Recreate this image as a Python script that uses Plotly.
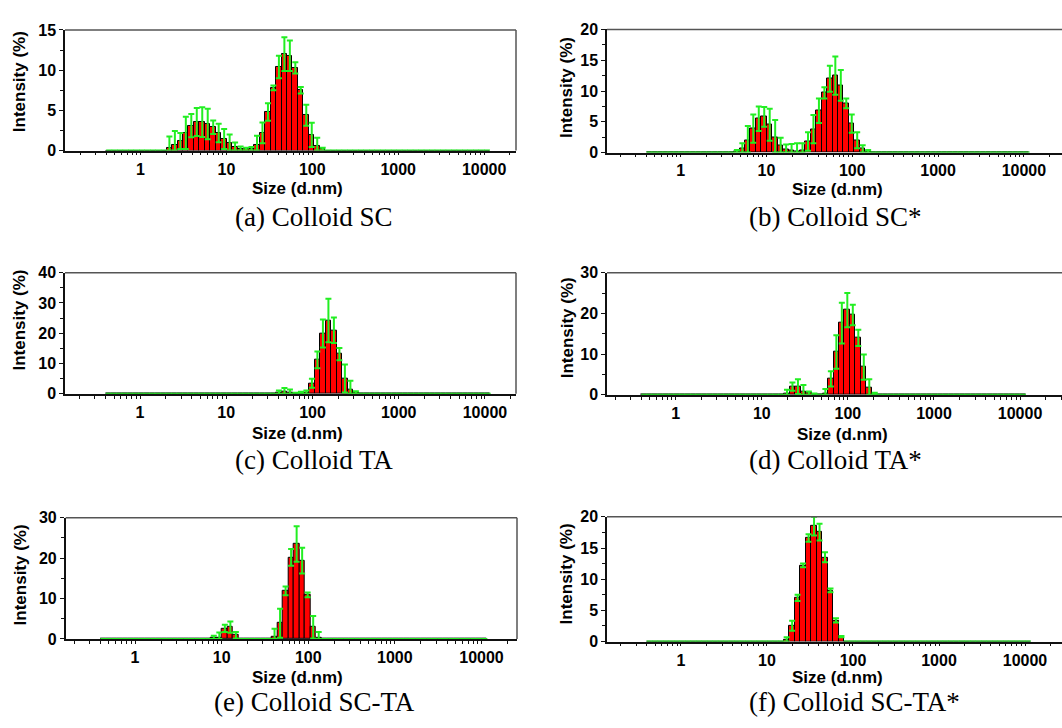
import plotly.graph_objects as go

W, H = 1062, 728

# Instrument size classes (d.nm)
SIZES_NM = [0.4, 0.4632, 0.5365, 0.6213, 0.7195, 0.8332, 0.9649, 1.117, 1.294, 1.499,
            1.736, 2.01, 2.328, 2.696, 3.122, 3.615, 4.187, 4.849, 5.615, 6.503,
            7.531, 8.721, 10.1, 11.7, 13.54, 15.69, 18.17, 21.04, 24.36, 28.21,
            32.67, 37.84, 43.82, 50.75, 58.77, 68.06, 78.82, 91.28, 105.7, 122.4,
            141.8, 164.2, 190.1, 220.2, 255.0, 295.3, 342.0, 396.1, 458.7, 531.2,
            615.1, 712.4, 825.0, 955.4, 1106, 1281, 1484, 1718, 1990, 2305,
            2669, 3091, 3580, 4145, 4801, 5560, 6439, 7456, 8635, 10000]

X_TICK_VALUES = [1, 10, 100, 1000, 10000]
X_TICK_TEXT = ["1", "10", "100", "1000", "10000"]

# Intensity distributions: first populated size class, then values (%) and std. dev.
SC_START = 11
SC_INTENSITY = [0.3, 0.7, 1.2, 2.2, 3.1, 3.55, 3.55, 3.3, 2.9, 2.2, 1.45, 0.9, 0.4, 0.2,
                0.15, 0.15, 0.7, 2.2, 4.8, 7.8, 10.4, 12.0, 11.8, 10.3, 7.5, 4.4, 1.95,
                0.6, 0.15]
SC_ERROR = [1.45, 1.75, 1.0, 2.0, 1.45, 1.75, 1.85, 1.9, 0.85, 1.15, 1.25, 1.1, 0.6, 0.3,
            0.2, 0.3, 1.15, 1.3, 1.1, 0.3, 1.4, 2.1, 1.9, 0.7, 0.4, 1.3, 1.5, 1.0, 0.2]

SC2_START = 16
SC2_INTENSITY = [0.1, 0.6, 2.0, 3.9, 5.5, 5.8, 4.5, 2.5, 1.2, 0.5, 0.3, 0.2, 0.4, 1.8,
                 3.8, 6.8, 9.7, 12.0, 12.5, 10.9, 8.0, 4.7, 2.0, 0.6, 0.2]
SC2_ERROR = [0.3, 0.9, 2.3, 2.3, 2.0, 1.6, 2.6, 2.8, 1.2, 0.8, 1.1, 1.3, 1.1, 1.5,
             2.3, 2.0, 0.9, 2.1, 3.1, 2.5, 0.8, 1.5, 1.3, 0.6, 0.2]

TA_START = 31
TA_INTENSITY = [0.3, 0.6, 0.4, 0.1, 0.2, 0.3, 3.5, 11.2, 19.9, 24.2, 21.0, 13.1, 5.05,
                1.2, 0.4]
TA_ERROR = [0.8, 1.3, 1.0, 0.2, 0.5, 0.8, 1.5, 2.8, 4.6, 7.2, 4.2, 2.0, 4.6, 3.1, 0.4]

TA2_START = 26
TA2_INTENSITY = [0.3, 2.0, 2.0, 0.8, 0.4, 0.1, 0.0, 0.3, 3.9, 10.5, 17.6, 20.8, 19.6,
                 14.0, 6.8, 1.8, 0.2]
TA2_ERROR = [0.9, 1.0, 1.8, 1.6, 0.4, 0.2, 0.0, 1.1, 1.9, 4.1, 5.0, 4.2, 2.5, 2.0, 3.1,
             2.0, 0.3]

SCTA_START = 20
SCTA_INTENSITY = [0.2, 0.3, 2.6, 2.9, 0.9, 0, 0, 0, 0, 0, 0, 0.5, 3.9, 11.9, 20.2, 23.5,
                  19.4, 10.9, 2.9, 0.3]
SCTA_ERROR = [0.6, 1.3, 0.9, 1.4, 0.8, 0, 0, 0, 0, 0, 0, 2.0, 3.6, 1.1, 2.1, 4.4, 3.2,
              0.6, 2.8, 1.4]

SCTA2_START = 25
SCTA2_INTENSITY = [0.3, 2.55, 7.0, 12.2, 16.6, 18.5, 17.55, 13.5, 8.2, 3.4, 0.8]
SCTA2_ERROR = [0.4, 0.8, 0.5, 0.3, 0.6, 1.5, 1.35, 0.8, 0.3, 0.35, 0.1]

Y_TICKS_15 = [0, 5, 10, 15]
Y_TICKS_20 = [0, 5, 10, 15, 20]
Y_TICKS_30 = [0, 10, 20, 30]
Y_TICKS_40 = [0, 10, 20, 30, 40]

CAPTIONS = ["(a) Colloid SC", "(b) Colloid SC*", "(c) Colloid TA", "(d) Colloid TA*",
            "(e) Colloid SC-TA", "(f) Colloid SC-TA*"]


def spread(start, values):
    row = [0.0] * len(SIZES_NM)
    row[start:start + len(values)] = values
    return row


# Each bar covers one size class, from its size up to the next class
bar_width = [SIZES_NM[i + 1] - SIZES_NM[i] for i in range(len(SIZES_NM) - 1)]
bar_width.append(SIZES_NM[-1] * (SIZES_NM[-1] / SIZES_NM[-2] - 1))

# panel layout in pixels: plot box (left, top, right, bottom), log x range,
# y-title centre, x-title centre, caption anchor point and alignment
panels = [
    dict(start=SC_START, vals=SC_INTENSITY, errs=SC_ERROR, yt=Y_TICKS_15,
         box=(65, 22.5, 516, 146), xr=(-0.879, 4.371),
         ytitle=(19, 76), xtitle=(297, 185), cap=(314, 214, "center"), closed=True),
    dict(start=SC2_START, vals=SC2_INTENSITY, errs=SC2_ERROR, yt=Y_TICKS_20,
         box=(607, 22, 1062, 148), xr=(-0.859, 4.444),
         ytitle=(566, 82), xtitle=(837, 186), cap=(747, 214, "left"), closed=False),
    dict(start=TA_START, vals=TA_INTENSITY, errs=TA_ERROR, yt=Y_TICKS_40,
         box=(65, 271, 516, 395), xr=(-0.870, 4.360),
         ytitle=(20, 320), xtitle=(297, 436), cap=(314, 463, "center"), closed=True),
    dict(start=TA2_START, vals=TA2_INTENSITY, errs=TA2_ERROR, yt=Y_TICKS_30,
         box=(607, 271, 1062, 396), xr=(-0.798, 4.487),
         ytitle=(567, 328), xtitle=(842, 437), cap=(747, 463, "left"), closed=False),
    dict(start=SCTA_START, vals=SCTA_INTENSITY, errs=SCTA_ERROR, yt=Y_TICKS_30,
         box=(65.7, 522, 517, 646), xr=(-0.80, 4.41),
         ytitle=(20, 581), xtitle=(297, 685), cap=(314, 711, "center"), closed=True),
    dict(start=SCTA2_START, vals=SCTA2_INTENSITY, errs=SCTA2_ERROR, yt=Y_TICKS_20,
         box=(607, 521, 1062, 648.7), xr=(-0.86, 4.43),
         ytitle=(566, 580), xtitle=(837, 685), cap=(747, 711, "left"), closed=False),
]

BOLD = dict(family="Liberation Sans, Arial, sans-serif", size=16, color="black", weight="bold")
SERIF = dict(family="Liberation Serif, Times New Roman, serif", size=27, color="black")
FRAME = dict(color="#555", width=1.5)

minor_x = [m * 10 ** k for k in range(-1, 5) for m in range(2, 10)]

fig = go.Figure()
layout = dict(width=W, height=H, margin=dict(l=0, r=0, t=0, b=0),
              paper_bgcolor="white", plot_bgcolor="white", showlegend=False,
              bargap=0, annotations=[], shapes=[])

for n, p in enumerate(panels, start=1):
    sfx = "" if n == 1 else str(n)
    left, top, right, bottom = p["box"]
    x0, x1 = left / W, right / W
    y0, y1 = 1 - bottom / H, 1 - top / H
    values = spread(p["start"], p["vals"])
    errors = spread(p["start"], p["errs"])
    lower = [min(e, v) for e, v in zip(errors, values)]
    fig.add_trace(go.Bar(
        x=SIZES_NM, y=values, width=bar_width, offset=0,
        xaxis="x" + sfx, yaxis="y" + sfx,
        marker=dict(color="#ff0000", line=dict(color="black", width=1)),
        error_y=dict(type="data", array=errors, arrayminus=lower, symmetric=False,
                     color="#22ee22", thickness=2, width=3),
        cliponaxis=False,
    ))
    ystep = p["yt"][1] - p["yt"][0]
    layout["xaxis" + sfx] = dict(
        type="log", range=list(p["xr"]), domain=[x0, x1],
        anchor="y" + sfx, showline=True, linecolor="#111", linewidth=1.5,
        layer="below traces", ticks="outside", ticklen=3,
        tickcolor="#111", tickvals=X_TICK_VALUES, ticktext=X_TICK_TEXT,
        tickfont=BOLD, showgrid=False, zeroline=False,
        minor=dict(ticks="outside", ticklen=3, tickcolor="#111", tickmode="array",
                   tickvals=minor_x, showgrid=False),
    )
    layout["yaxis" + sfx] = dict(
        range=[0, p["yt"][-1]], domain=[y0, y1],
        anchor="x" + sfx, showline=True, linecolor="#111", linewidth=1.5,
        layer="below traces", ticks="outside", ticklen=4,
        tickcolor="#111", tickvals=p["yt"], tickfont=BOLD, showgrid=False,
        zeroline=False,
        minor=dict(ticks="outside", ticklen=3, tickcolor="#111", dtick=ystep / 2,
                   showgrid=False),
    )
    # grey frame: top edge on every panel, right edge where the panel closes
    layout["shapes"].append(dict(type="line", xref="paper", yref="paper",
                                 x0=x0, x1=x1, y0=y1, y1=y1, line=FRAME))
    if p["closed"]:
        layout["shapes"].append(dict(type="line", xref="paper", yref="paper",
                                     x0=x1, x1=x1, y0=y0, y1=y1, line=FRAME))
    cx, cy, align = p["cap"]
    layout["annotations"] += [
        dict(text="Intensity (%)", textangle=-90, x=p["ytitle"][0] / W,
             y=1 - p["ytitle"][1] / H, xref="paper", yref="paper",
             xanchor="center", yanchor="middle", showarrow=False,
             font=dict(BOLD, size=17)),
        dict(text="Size (d.nm)", x=p["xtitle"][0] / W, y=1 - p["xtitle"][1] / H,
             xref="paper", yref="paper", xanchor="center", yanchor="middle",
             showarrow=False, font=dict(BOLD, size=17)),
        dict(text=CAPTIONS[n - 1], x=cx / W, y=1 - cy / H,
             xref="paper", yref="paper", xanchor=align, yanchor="middle",
             showarrow=False, font=SERIF),
    ]

fig.update_layout(**layout)
fig.write_html("out.html")
